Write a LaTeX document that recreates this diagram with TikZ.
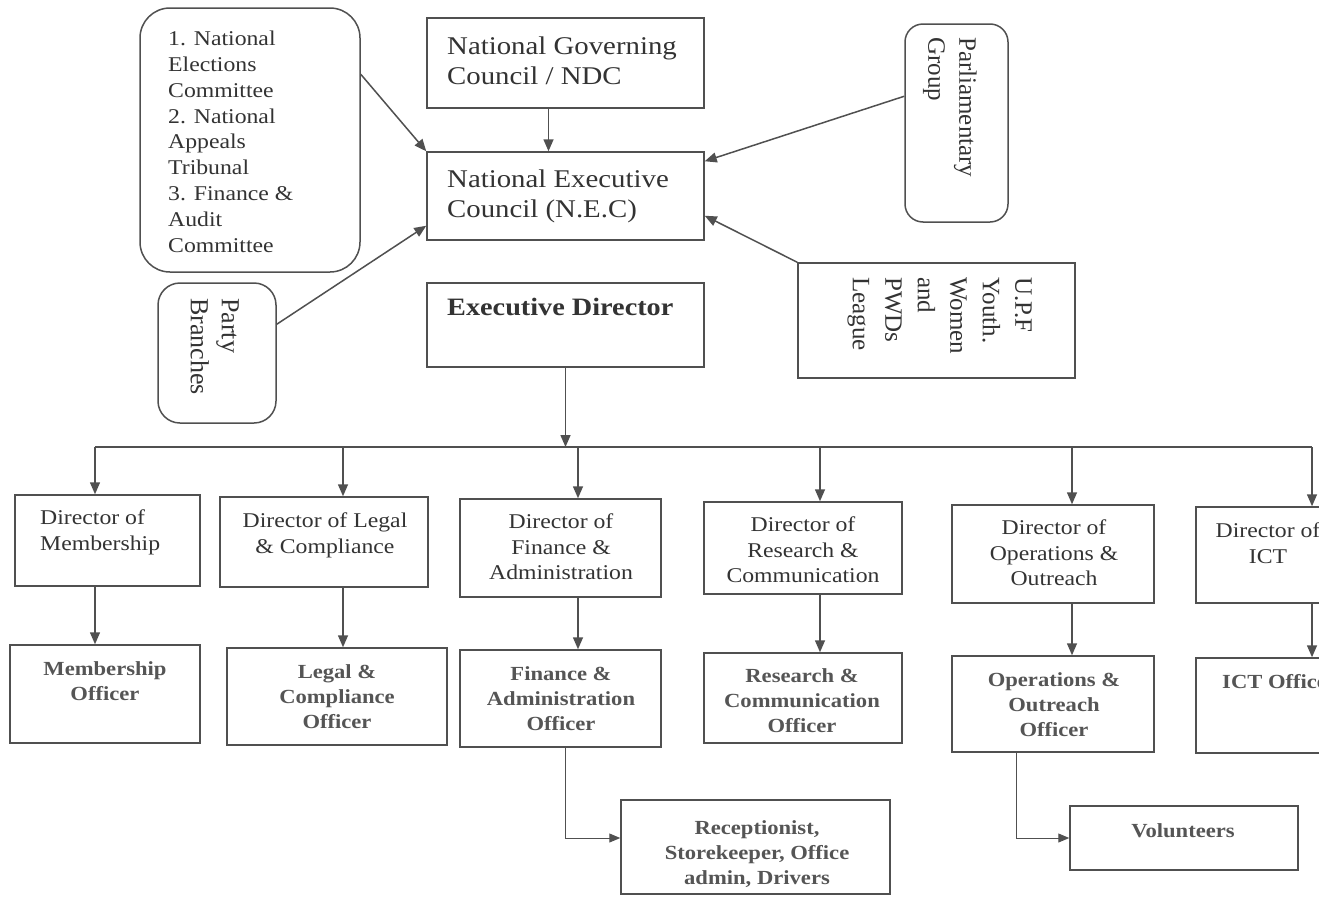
\documentclass[tikz,border=0pt]{standalone}
\usepackage{fontspec}
\setmainfont{Liberation Serif}[FakeStretch=1.13]
\newfontfamily\rotfont{Liberation Serif}
\usetikzlibrary{arrows.meta,fit,calc}
\definecolor{lc}{HTML}{505050}
\definecolor{tc}{HTML}{333333}
\definecolor{tb}{HTML}{555555}
\newcommand\fs[2]{\fontsize{#1}{#2}\selectfont}
\begin{document}
\begin{tikzpicture}[x=1pt,y=-1pt,
  box/.style={draw=lc, line width=1.5pt, inner sep=0pt, rectangle},
  rbox/.style={box, rounded corners=#1},
  txt/.style={inner sep=0pt, text=tc},
  btxt/.style={inner sep=0pt, text=tb, font=\bfseries\fs{20}{25}},
  dtxt/.style={inner sep=0pt, text=tc, font=\fs{21}{25.5}},
  arr/.style={draw=lc, line width=1.5pt, -{Triangle[length=12pt,width=10pt]}},
  thinarr/.style={draw=lc, line width=1pt, -{Triangle[length=11pt,width=9pt]}},
  ln/.style={draw=lc, line width=1.5pt}]
\clip (0,0) rectangle (1319,897);
\fill[white] (0,0) rectangle (1319,897);

% top boxes
\node[rbox=30pt, fit={(140,8) (360,272)}] (comm) {};
\node[txt, anchor=north west, align=left, font=\fs{21}{25.8}] (commT) at (168,31)
  {1. National\\Elections\\Committee\\2. National\\Appeals\\Tribunal\\3. Finance \&\\Audit\\Committee};
\node[box, fit={(427,18) (704,108)}] (ngc) {};
\node[txt, anchor=north west, align=left, font=\fs{25.5}{30}] (ngcT) at (447,37)
  {National Governing\\Council / NDC};
\node[box, fit={(427,152) (704,240)}] (nec) {};
\node[txt, anchor=north west, align=left, font=\fs{25.5}{30}] (necT) at (447,170)
  {National Executive\\Council (N.E.C)};
\node[box, fit={(427,283) (704,367)}] (ed) {};
\node[txt, anchor=north west, align=left, font=\bfseries\fs{25}{30}] (edT) at (447,298)
  {Executive Director};
\node[rbox=18pt, fit={(905,24) (1008,222)}] (parl) {};
\node[txt, rotate=-90, anchor=north west, align=left, font=\rotfont\fs{25}{31}] (parlT) at (977,37)
  {Parliamentary\\Group};
\node[box, fit={(798,263) (1075,378)}] (upf) {};
\node[txt, rotate=-90, anchor=north west, align=left, font=\rotfont\fs{25}{32.5}] (upfT) at (1032,277)
  {U.P.F\\Youth.\\Women\\and\\PWDs\\League};
\node[rbox=22pt, fit={(158,283) (276,423)}] (pb) {};
\node[txt, rotate=-90, anchor=north west, align=left, font=\rotfont\fs{26}{31}] (pbT) at (239,298)
  {Party\\Branches};

% arrows to NEC
\draw[arr] ([xshift=-17pt]ngc.south) -- ([xshift=-17pt]nec.north);
\draw[arr] ($(comm.north east)+(0,67)$) -- (nec.north west);
\draw[arr] ($(pb.north east)+(0,42)$) -- ($(nec.south west)+(0,-15)$);
\draw[arr] ($(parl.north west)+(0,73)$) -- ($(nec.north east)+(0,10)$);
\draw[arr] (upf.north west) -- ($(nec.south east)+(0,-25)$);

% directors
\node[box, fit={(15,495) (200,586)}] (d1) {};
\node[dtxt, anchor=north west, align=left] (d1T) at (40,510) {Director of\\Membership};
\node[box, fit={(220,497) (428,587)}] (d2) {};
\node[dtxt, anchor=north, align=center] (d2T) at (325,513) {Director of Legal\\\& Compliance};
\node[box, fit={(460,499) (661,597)}] (d3) {};
\node[dtxt, anchor=north, align=center] (d3T) at (561,514) {Director of\\Finance \&\\Administration};
\node[box, fit={(704,502) (902,594)}] (d4) {};
\node[dtxt, anchor=north, align=center] (d4T) at (803,517) {Director of\\Research \&\\Communication};
\node[box, fit={(952,505) (1154,603)}] (d5) {};
\node[dtxt, anchor=north, align=center] (d5T) at (1054,520) {Director of\\Operations \&\\Outreach};
\node[box, fit={(1196,507) (1345,603)}] (d6) {};
\node[dtxt, anchor=north, align=center] (d6T) at (1268,523) {Director of\\ICT};

% officers
\node[box, fit={(10,645) (200,743)}] (o1) {};
\node[btxt, anchor=north, align=center] (o1T) at (105,661) {Membership\\Officer};
\node[box, fit={(227,648) (447,745)}] (o2) {};
\node[btxt, anchor=north, align=center] (o2T) at (337,664) {Legal \&\\Compliance\\Officer};
\node[box, fit={(460,650) (661,747)}] (o3) {};
\node[btxt, anchor=north, align=center] (o3T) at (561,666) {Finance \&\\Administration\\Officer};
\node[box, fit={(704,653) (902,743)}] (o4) {};
\node[btxt, anchor=north, align=center] (o4T) at (802,668) {Research \&\\Communication\\Officer};
\node[box, fit={(952,656) (1154,752)}] (o5) {};
\node[btxt, anchor=north, align=center] (o5T) at (1054,672) {Operations \&\\Outreach\\Officer};
\node[box, fit={(1196,658) (1345,753)}] (o6) {};
\node[btxt, anchor=north west, align=left] (o6T) at (1222,674) {ICT Officer};

% bottom boxes
\node[box, fit={(621,800) (890,894)}] (rec) {};
\node[btxt, anchor=north, align=center] (recT) at (757,820) {Receptionist,\\Storekeeper, Office\\admin, Drivers};
\node[box, fit={(1070,806) (1298,870)}] (vol) {};
\node[btxt, anchor=north, align=center] (volT) at (1183,823) {Volunteers};

% bus
\coordinate (k1) at (95,447);
\coordinate (k2) at (343,447);
\coordinate (k3) at (578,447);
\coordinate (k4) at (820,447);
\coordinate (k5) at (1072,447);
\coordinate (k6) at (1312,447);
\draw[arr] (ed.south) -- (ed.south |- k1);
\draw[ln] (k1) -- (k6);
\foreach \i in {1,...,6}{
  \draw[arr] (k\i) -- (k\i |- d\i.north);
  \draw[arr] (k\i |- d\i.south) -- (k\i |- o\i.north);
}
\draw[thinarr] ($(o3.south)+(5,0)$) |- ($(rec.west)+(0,-9)$);
\draw[thinarr] ($(o5.south)+(-37,0)$) |- (vol.west);
\end{tikzpicture}
\end{document}
